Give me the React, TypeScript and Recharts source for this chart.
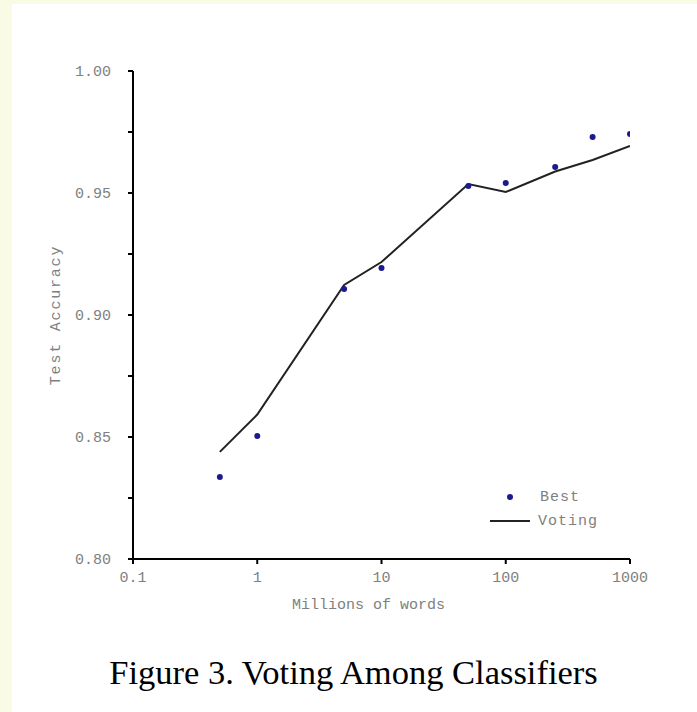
import React from 'react';
import { ComposedChart, Line, Scatter, XAxis, YAxis, Legend, Label } from 'recharts';

const words = [0.5, 1, 5, 10, 50, 100, 250, 500, 1000];
const bestAcc = [0.8336, 0.8504, 0.9107, 0.9193, 0.9529, 0.9541, 0.9607, 0.973, 0.9742];
const votingAcc = [0.8439, 0.8592, 0.9123, 0.9217, 0.9537, 0.9504, 0.9588, 0.9635, 0.9693];
const xTicks = [0.1, 1, 10, 100, 1000];
const yTicks = [0.8, 0.825, 0.85, 0.875, 0.9, 0.925, 0.95, 0.975, 1.0];

const data = words.map((w, i) => ({ x: w, best: bestAcc[i], voting: votingAcc[i] }));

const MONO = '"Liberation Mono", "DejaVu Sans Mono", monospace';
const GRAY = '#808080';
const DOT = '#1b1b8f';

const legendContent = () => (
  <svg width={130} height={50} style={{ display: 'block' }}>
    <circle cx={22} cy={13} r={3} fill={DOT} />
    <text x={52} y={13} dominantBaseline="central" fontFamily={MONO} fontSize={15} fill={GRAY} letterSpacing={1}>Best</text>
    <line x1={2} y1={37} x2={42} y2={37} stroke="#222" strokeWidth={2} />
    <text x={50} y={37} dominantBaseline="central" fontFamily={MONO} fontSize={15} fill={GRAY} letterSpacing={1}>Voting</text>
  </svg>
);

export default function App() {
  return (
    <div style={{ position: 'fixed', left: 0, top: 0, width: 697, height: 712, background: '#fafbe4', overflow: 'hidden' }}>
      <div style={{ position: 'absolute', left: 12, top: 4, right: 0, bottom: 0, background: '#ffffff' }} />
      <div style={{ position: 'absolute', left: 0, top: 0 }}>
        <ComposedChart
          width={697}
          height={712}
          data={data}
          margin={{ top: 71, right: 67, bottom: 93, left: 53 }}
        >
          <XAxis
            dataKey="x"
            type="number"
            scale="log"
            domain={[0.1, 1000]}
            ticks={xTicks}
            tickFormatter={(v: number) => String(v)}
            axisLine={{ stroke: '#000', strokeWidth: 2 }}
            tickLine={{ stroke: '#000', strokeWidth: 2 }}
            tickSize={5}
            tickMargin={7}
            height={60}
            tick={{ fontFamily: MONO, fontSize: 15, fill: GRAY }}
            allowDataOverflow
          >
            <Label
              value="Millions of words"
              position="insideBottom"
              offset={10}
              dx={-13}
              style={{ fontFamily: MONO, fontSize: 15, fill: GRAY }}
            />
          </XAxis>
          <YAxis
            type="number"
            domain={[0.8, 1.0]}
            ticks={yTicks}
            tickFormatter={(v: number) => (Math.round(v * 1000) % 50 === 0 ? v.toFixed(2) : '')}
            axisLine={{ stroke: '#000', strokeWidth: 2 }}
            tickLine={{ stroke: '#000', strokeWidth: 2 }}
            tickSize={5}
            tickMargin={17}
            width={80}
            tick={{ fontFamily: MONO, fontSize: 15, fill: GRAY }}
            allowDataOverflow
          >
            <Label
              value="Test Accuracy"
              angle={-90}
              position="insideLeft"
              offset={2}
              style={{ fontFamily: MONO, fontSize: 15, fill: GRAY, textAnchor: 'middle', letterSpacing: 1.8 }}
            />
          </YAxis>
          <Legend
            layout="vertical"
            align="center"
            verticalAlign="middle"
            content={legendContent}
            wrapperStyle={{ position: 'absolute', left: 488, top: 484, width: 130, height: 50 }}
          />
          <Line
            dataKey="voting"
            type="linear"
            stroke="#222"
            strokeWidth={2}
            dot={false}
            activeDot={false}
            isAnimationActive={false}
            legendType="line"
          />
          <Scatter
            dataKey="best"
            fill={DOT}
            shape={(p: any) => <circle cx={p.cx} cy={p.cy} r={3} fill={DOT} />}
            isAnimationActive={false}
          />
        </ComposedChart>
      </div>
      <div
        style={{
          position: 'absolute',
          left: 0,
          top: 655,
          width: 707,
          textAlign: 'center',
          fontFamily: '"Liberation Serif", "Times New Roman", serif',
          fontSize: 34.5,
          lineHeight: '34px',
          color: '#000',
          whiteSpace: 'nowrap',
        }}
      >
        Figure 3. Voting Among Classifiers
      </div>
    </div>
  );
}
